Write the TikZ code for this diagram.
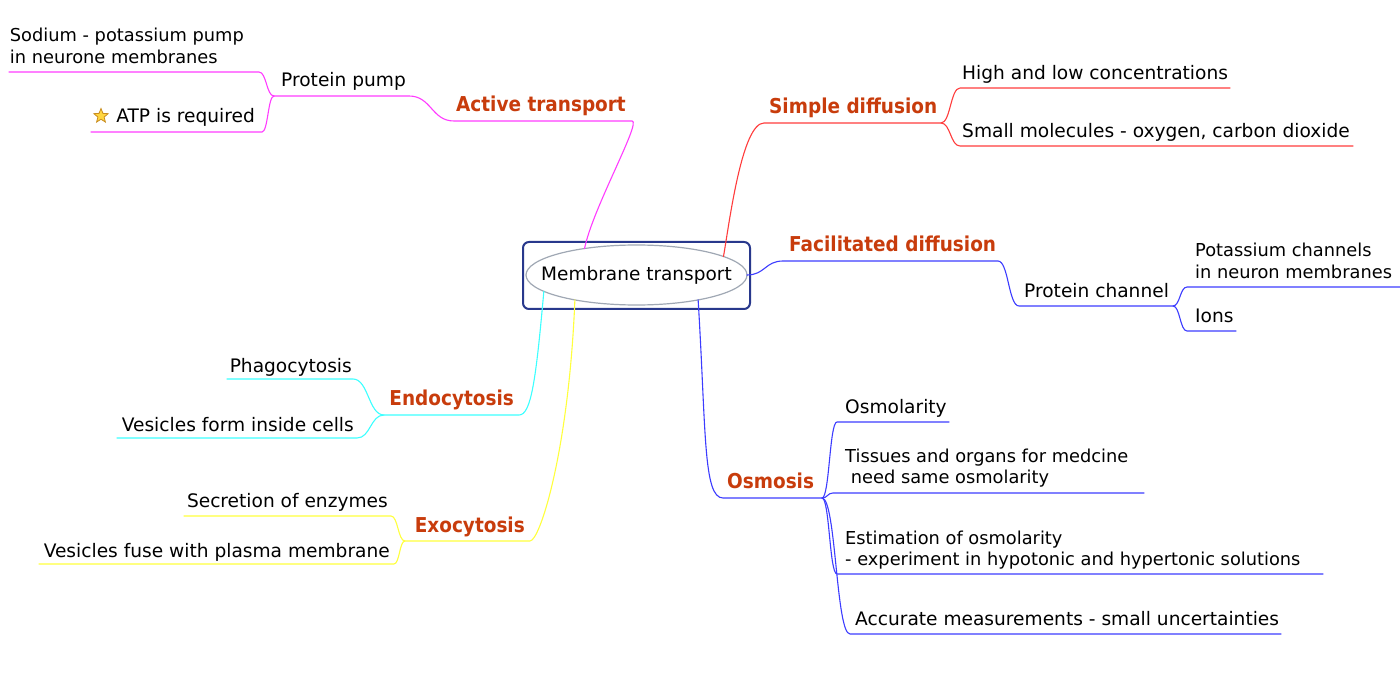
\documentclass[tikz,border=0pt]{standalone}
\usepackage{fontspec}
\setmainfont{DejaVu Sans}
\newfontfamily\hdfont[FakeStretch=0.9]{DejaVu Sans}
\usetikzlibrary{calc,shapes.geometric}
\definecolor{magc}{RGB}{255,60,255}
\definecolor{redc}{RGB}{255,60,60}
\definecolor{bluc}{RGB}{60,60,255}
\definecolor{cyac}{RGB}{60,255,255}
\definecolor{yelc}{RGB}{255,255,60}
\definecolor{hdcol}{RGB}{200,60,12}
\definecolor{boxc}{RGB}{40,56,140}
\definecolor{ellc}{RGB}{160,168,180}
\tikzset{
  leafR/.style={anchor=base west, inner sep=0, font=\fontsize{18.6}{21.5}\selectfont},
  leafL/.style={anchor=base east, inner sep=0, font=\fontsize{18.6}{21.5}\selectfont},
  multi/.style={font=\fontsize{17.8}{21.5}\selectfont},
  headR/.style={anchor=base west, inner sep=0, text=hdcol, font=\hdfont\bfseries\fontsize{20.5}{24}\selectfont},
  headL/.style={anchor=base east, inner sep=0, text=hdcol, font=\hdfont\bfseries\fontsize{20.5}{24}\selectfont},
  br/.style={line width=1.1pt, line cap=round},
  hs/.style={to path={let \p1=(\tikztostart), \p2=(\tikztotarget) in
     .. controls ({(\x1+\x2)/2},\y1) and ({(\x1+\x2)/2},\y2) .. (\tikztotarget) \tikztonodes}},
  rootbox/.style={draw=boxc, line width=2pt, rounded corners=6pt, minimum width=227pt, minimum height=67pt, inner sep=0},
  rootell/.style={ellipse, draw=ellc, line width=1.2pt, minimum width=221pt, minimum height=60pt, inner sep=0, outer sep=0, font=\fontsize{18.5}{22}\selectfont},
  staricon/.style={star, star points=5, star point ratio=2.3, minimum size=15pt, inner sep=0, fill={rgb,255:red,255;green,214;blue,64}, draw={rgb,255:red,200;green,140;blue,30}, line width=0.8pt}
}
\newcommand{\twoline}[2]{\begin{tabular}[t]{@{}l@{}}#1\\#2\end{tabular}}
\begin{document}
\begin{tikzpicture}[x=1pt,y=1pt]
\fill[white] (0,0) rectangle (1400,-676);
\useasboundingbox (0,0) rectangle (1400,-676);

% root
\node[rootbox] (rbox) at (636.5,-275.5) {};
\node[rootell] (root) at (636.5,-275) {\makebox[0pt]{Membrane transport}};

% ---------- Active transport (magenta)
\node[headL] (at) at (626,-112) {Active transport};
\node[leafR] (pp) at (281,-87) {Protein pump};
\node[leafL,multi] (sod) at (244,-42) {\twoline{Sodium - potassium pump}{in neurone membranes}};
\node[leafL] (atp) at (255,-123) {ATP is required};
\node[staricon] (star) at (101,-116) {};
\coordinate (sodL) at (9,-72);   \coordinate (sodR) at (259,-72);
\coordinate (atpL) at (91,-132); \coordinate (atpR) at (262,-132);
\coordinate (ppL) at (274,-96);  \coordinate (ppR) at (409,-96);
\coordinate (atL) at (454,-121); \coordinate (atR) at (632,-121);
\draw[br,magc] (sodL) -- (sodR) to[hs] (ppL);
\draw[br,magc] (atpL) -- (atpR) to[hs] (ppL);
\draw[br,magc] (ppL) -- (ppR) to[hs] (atL) -- (atR) .. controls +(10,0) and +(8,40) .. (root.153);

% ---------- Simple diffusion (red)
\node[headR] (sd) at (769,-114) {Simple diffusion};
\node[leafR] (high) at (962,-80) {High and low concentrations};
\node[leafR] (small) at (962,-138) {Small molecules - oxygen, carbon dioxide};
\coordinate (sdL) at (764,-123); \coordinate (sdR) at (941,-123);
\coordinate (hiL) at (960,-88);  \coordinate (hiR) at (1230,-88);
\coordinate (smL) at (960,-146); \coordinate (smR) at (1353,-146);
\draw[br,redc] (root.12) .. controls +(6,35) and +(-22,0) .. (sdL) -- (sdR) to[hs] (hiL) -- (hiR);
\draw[br,redc] (sdR) to[hs] (smL) -- (smR);

% ---------- Facilitated diffusion (blue)
\node[headR] (fd) at (789,-252) {Facilitated diffusion};
\node[leafR] (pc) at (1024,-298) {Protein channel};
\node[leafR,multi] (kc) at (1195,-257) {\twoline{Potassium channels}{in neuron membranes}};
\node[leafR] (ions) at (1195,-323) {Ions};
\coordinate (fdL) at (783,-261);  \coordinate (fdR) at (998,-261);
\coordinate (pcL) at (1019,-306); \coordinate (pcR) at (1173,-306);
\coordinate (kL) at (1187,-287);  \coordinate (kR) at (1400,-287);
\coordinate (ioL) at (1187,-331); \coordinate (ioR) at (1236,-331);
\draw[br,bluc] (root.east) .. controls +(18,0) and +(-18,0) .. (fdL) -- (fdR) to[hs] (pcL) -- (pcR) to[hs] (kL) -- (kR);
\draw[br,bluc] (pcR) to[hs] (ioL) -- (ioR);

% ---------- Osmosis (blue)
\node[headR] (os) at (727,-488) {Osmosis};
\node[leafR] (om) at (845,-413) {Osmolarity};
\node[leafR,multi] (ti) at (845,-462) {\twoline{Tissues and organs for medcine}{\hspace*{0.32em}need same osmolarity}};
\node[leafR,multi] (es) at (845,-544) {\twoline{Estimation of osmolarity}{- experiment in hypotonic and hypertonic solutions}};
\node[leafR] (ac) at (855,-625) {Accurate measurements - small uncertainties};
\coordinate (osL) at (723,-498); \coordinate (osR) at (822,-498);
\coordinate (omL) at (837,-422); \coordinate (omR) at (949,-422);
\coordinate (tiL) at (833,-493); \coordinate (tiR) at (1144,-493);
\coordinate (esL) at (837,-574); \coordinate (esR) at (1323,-574);
\coordinate (acL) at (850,-634); \coordinate (acR) at (1281,-634);
\draw[br,bluc] (root.-22) .. controls +(8,-130) and +(-20,0) .. (osL) -- (osR) to[hs] (omL) -- (omR);
\draw[br,bluc] (osR) to[hs] (tiL) -- (tiR);
\draw[br,bluc] (osR) to[hs] (esL) -- (esR);
\draw[br,bluc] (osR) to[hs] (acL) -- (acR);

% ---------- Endocytosis (cyan)
\node[headL] (en) at (514,-405) {Endocytosis};
\node[leafL] (ph) at (352,-372) {Phagocytosis};
\node[leafL] (vi) at (354,-431) {Vesicles form inside cells};
\coordinate (enL) at (384,-415); \coordinate (enR) at (519,-415);
\coordinate (phL) at (227,-379); \coordinate (phR) at (353,-379);
\coordinate (viL) at (117,-438); \coordinate (viR) at (357,-438);
\draw[br,cyac] (root.190) .. controls +(-8,-90) and +(12,0) .. (enR) -- (enL) to[hs] (phR) -- (phL);
\draw[br,cyac] (enL) to[hs] (viR) -- (viL);

% ---------- Exocytosis (yellow)
\node[headL] (ex) at (525,-532) {Exocytosis};
\node[leafL] (se) at (388,-507) {Secretion of enzymes};
\node[leafL] (vf) at (390,-557) {Vesicles fuse with plasma membrane};
\coordinate (exL) at (405,-541); \coordinate (exR) at (530,-541);
\coordinate (seL) at (184,-516); \coordinate (seR) at (391,-516);
\coordinate (vfL) at (39,-564);  \coordinate (vfR) at (394,-564);
\draw[br,yelc] (root.202) .. controls +(-6,-150) and +(10,0) .. (exR) -- (exL) to[hs] (seR) -- (seL);
\draw[br,yelc] (exL) to[hs] (vfR) -- (vfL);
\end{tikzpicture}
\end{document}
